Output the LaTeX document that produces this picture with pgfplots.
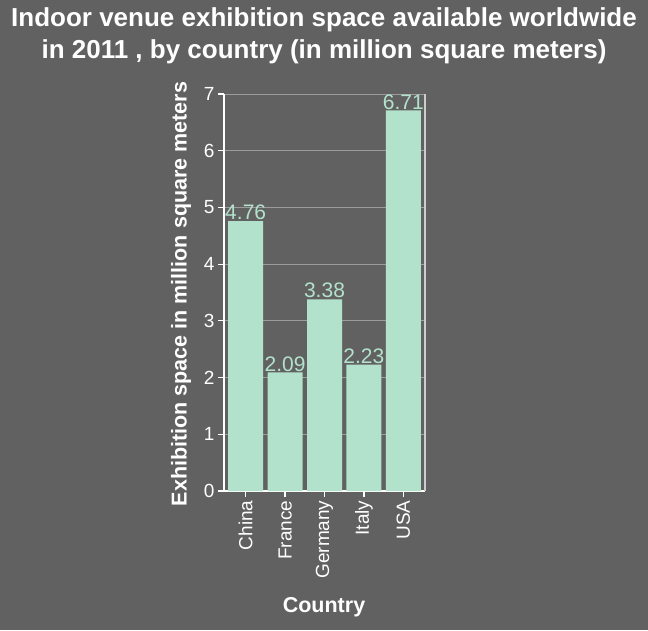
\documentclass[border=0pt]{standalone}
\usepackage{pgfplots}
\pgfplotsset{compat=1.18}
\usepackage{fontspec}
\setmainfont{Liberation Sans}
\definecolor{bg}{HTML}{616161}
\definecolor{barc}{HTML}{B2E2CC}
\definecolor{gridc}{HTML}{9C9C9C}
\definecolor{rightc}{HTML}{CCCCCC}
\begin{document}
\begin{tikzpicture}[x=1pt,y=1pt]
\fill[bg] (0,0) rectangle (648,630);
\node[text=white,font=\bfseries\fontsize{26}{32}\selectfont,align=center] at (324,594) {Indoor venue exhibition space available worldwide\\in 2011 , by country (in million square meters)};
\node[text=white,font=\bfseries\fontsize{21.5}{24}\selectfont,rotate=90] at (181,336) {Exhibition space in million square meters};
\node[text=white,font=\bfseries\fontsize{21.5}{24}\selectfont] at (324,23) {Country};
\begin{axis}[
  at={(224pt,139pt)}, anchor=south west,
  scale only axis, width=201pt, height=397pt,
  ybar, bar width=35pt,
  xmin=-0.55, xmax=4.55, ymin=0, ymax=7,
  axis x line*=bottom, axis y line*=left,
  axis line style={white, line width=1.5pt, -},
  xtick={0,1,2,3,4},
  xticklabels={China,France,Germany,Italy,USA},
  ytick={0,1,2,3,4,5,6,7},
  tick align=outside, major tick length=6pt,
  tick style={white, line width=1.2pt},
  ymajorgrids, major grid style={gridc, line width=1pt},
  /pgf/number format/assume math mode=true,
  x tick label style={rotate=90, anchor=east, text=white, font=\fontsize{19}{19}\selectfont},
  y tick label style={text=white, font=\fontsize{19}{19}\selectfont},
  clip=false,
]
\addplot[fill=barc, draw=none,
  nodes near coords,
  every node near coord/.append style={text=barc, font=\fontsize{21}{21}\selectfont, inner sep=1pt, anchor=south}]
  coordinates {(0,4.76) (1,2.09) (2,3.38) (3,2.23) (4,6.71)};
\draw[rightc, line width=1.5pt] (rel axis cs:1,0) -- (rel axis cs:1,1);
\end{axis}
\pgfresetboundingbox
\path (0,0) rectangle (648,630);
\end{tikzpicture}
\end{document}
